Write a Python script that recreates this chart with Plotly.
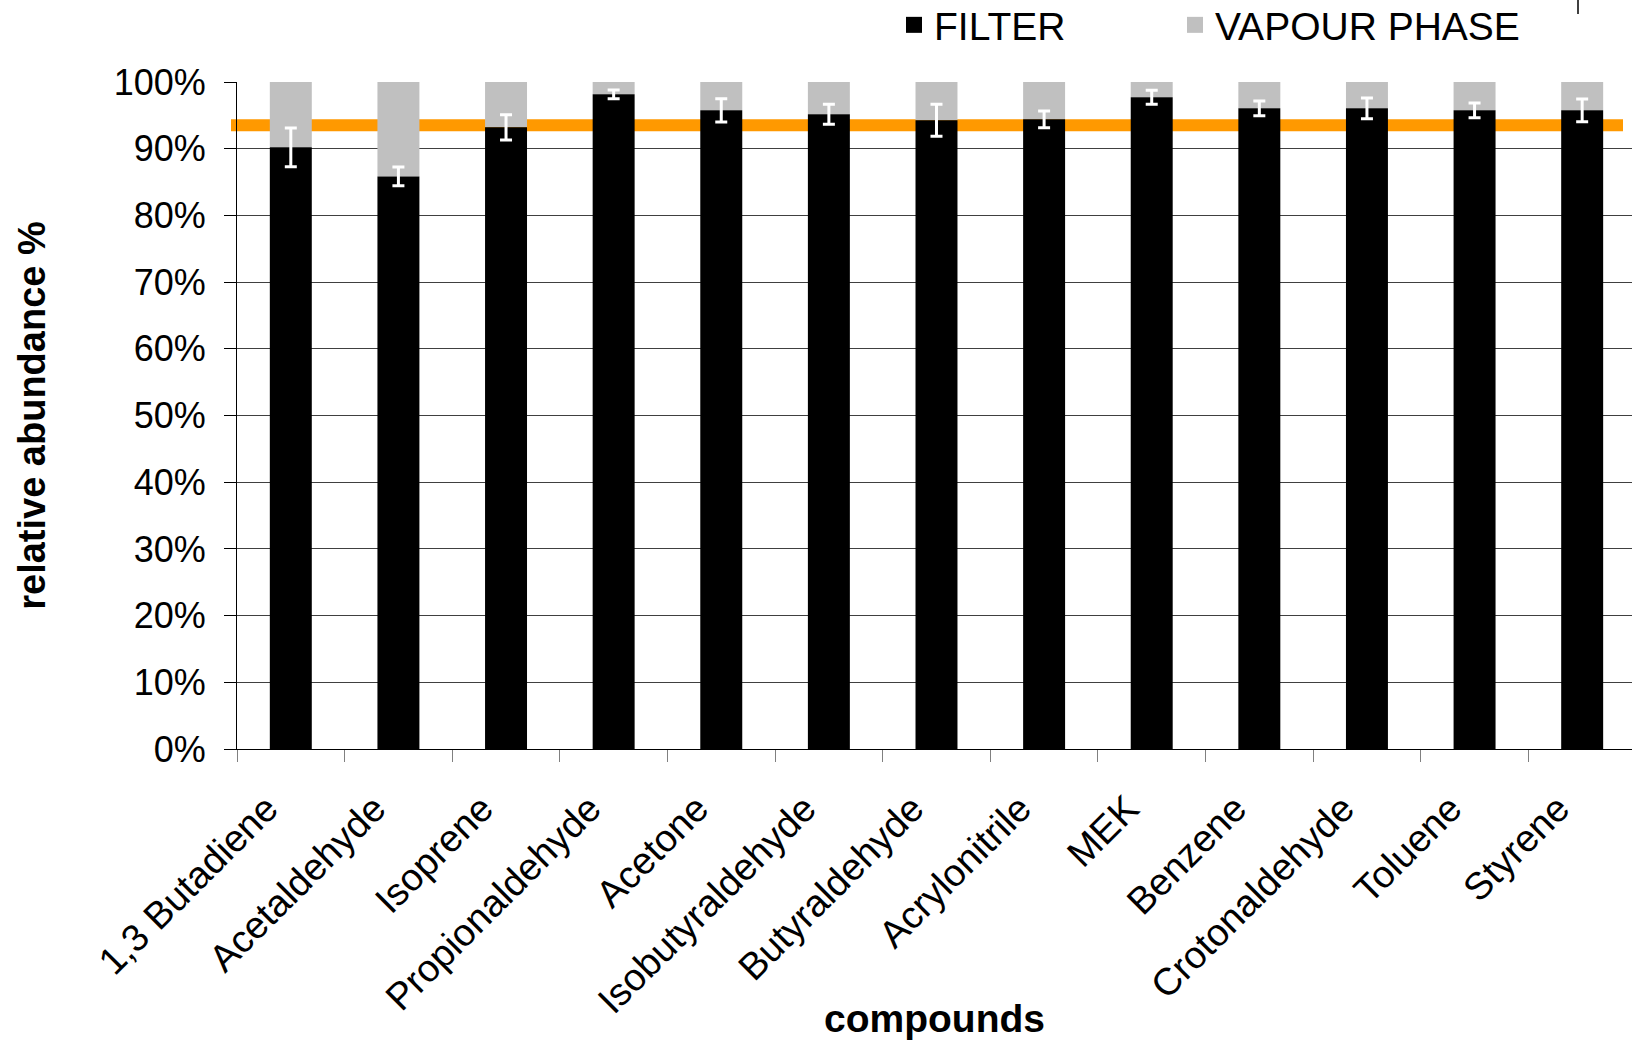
import plotly.graph_objects as go

compounds = ["1,3 Butadiene", "Acetaldehyde", "Isoprene", "Propionaldehyde", "Acetone",
             "Isobutyraldehyde", "Butyraldehyde", "Acrylonitrile", "MEK", "Benzene",
             "Crotonaldehyde", "Toluene", "Styrene"]
filter_pct = [90.2, 85.85, 93.2, 98.15, 95.75, 95.15, 94.25, 94.4, 97.7, 96.05, 96.05, 95.75, 95.75]
filter_err = [2.9, 1.4, 1.9, 0.65, 1.75, 1.5, 2.4, 1.25, 1.05, 1.1, 1.55, 1.1, 1.7]
vapour_pct = [round(100 - v, 2) for v in filter_pct]
threshold = 93.5
y_ticks = [0, 10, 20, 30, 40, 50, 60, 70, 80, 90, 100]
y_ticktext = [f"{v}%" for v in y_ticks]

FONT = "Liberation Sans, Arial, sans-serif"
FILTER_COLOR = "#000000"
VAPOUR_COLOR = "#C0C0C0"

# body margin is removed by post_script, so figure coords = page coords
W, H = 1632, 1040
L, T = 237, 82
B = H - 749
R = 0
pw = W - L - R
ph = H - T - B


def px_x(page_x):
    return (page_x - L) / pw


def px_y(page_y):
    return 1 + (T - page_y) / ph


fig = go.Figure()
fig.add_trace(go.Bar(
    x=compounds, y=vapour_pct, base=filter_pct, name="VAPOUR PHASE",
    marker=dict(color=VAPOUR_COLOR, line=dict(width=0)), width=0.39, showlegend=False,
))
fig.add_trace(go.Bar(
    x=compounds, y=filter_pct, name="FILTER",
    marker=dict(color=FILTER_COLOR, line=dict(width=0)), width=0.39, showlegend=False,
    error_y=dict(type="data", array=filter_err, symmetric=True, color="white",
                 thickness=3, width=6),
))
# legend entries
fig.add_trace(go.Scatter(x=[None], y=[None], mode="markers", name="FILTER",
                         marker=dict(symbol="square", size=20, color=FILTER_COLOR),
                         legend="legend", hoverinfo="skip"))
fig.add_trace(go.Scatter(x=[None], y=[None], mode="markers", name="VAPOUR PHASE",
                         marker=dict(symbol="square", size=20, color=VAPOUR_COLOR),
                         legend="legend2", hoverinfo="skip"))

fig.add_shape(type="line", xref="paper", yref="y", x0=px_x(231), x1=px_x(1623),
              y0=threshold, y1=threshold, line=dict(color="#FF9900", width=12), layer="between")
fig.add_shape(type="line", xref="paper", yref="paper", x0=px_x(1578), x1=px_x(1578),
              y0=px_y(14), y1=px_y(0), line=dict(color="#000000", width=1.5))

legend_common = dict(orientation="h", xanchor="left", yanchor="middle",
                     font=dict(size=39), bgcolor="rgba(0,0,0,0)", itemwidth=30,
                     itemsizing="trace")

fig.update_layout(
    width=W, height=H,
    margin=dict(l=L, r=R, t=T, b=B, autoexpand=False),
    paper_bgcolor="white", plot_bgcolor="white",
    barmode="overlay",
    font=dict(family=FONT, color="black", size=36),
    showlegend=True,
    legend=dict(x=px_x(894), y=px_y(25), **legend_common),
    legend2=dict(x=px_x(1175), y=px_y(25), **legend_common),
    xaxis=dict(
        type="category", range=[-0.5, 12.463], showgrid=False,
        showline=True, linecolor="black", linewidth=1,
        ticks="outside", tickson="boundaries", ticklen=12, tickcolor="#808080", tickwidth=1,
        tickangle=-45, tickfont=dict(size=38), ticklabelshift=-24, ticklabelstandoff=21,
        title=dict(text="<b>compounds</b>", font=dict(size=39), standoff=10),
        automargin=False,
    ),
    yaxis=dict(
        range=[0, 100], tickmode="array", tickvals=y_ticks, ticktext=y_ticktext,
        showgrid=True, gridcolor="#404040", gridwidth=1,
        showline=True, linecolor="black", linewidth=1,
        ticks="outside", ticklen=12, tickcolor="black", tickwidth=1,
        tickfont=dict(size=36), ticklabelstandoff=11,
        title=dict(text="<b>relative abundance %</b>", font=dict(size=38), standoff=56),
        automargin=False, zeroline=False,
    ),
)

fig.write_html("out.html", config={"displayModeBar": False},
               post_script="document.body.style.margin='0';")
